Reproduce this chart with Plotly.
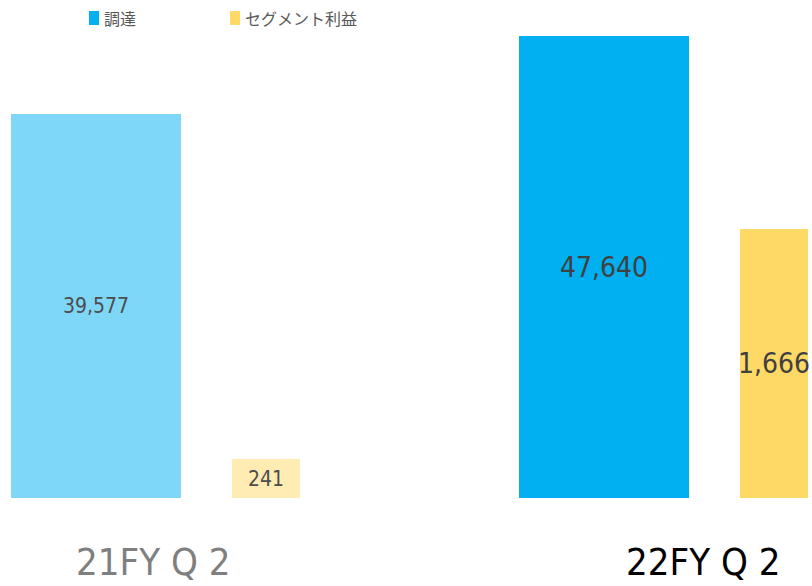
import plotly.graph_objects as go

categories = ["21FY Q 2", "22FY Q 2"]
procurement = [39577, 47640]          # 調達 (primary axis)
segment_profit = [241, 1666]          # セグメント利益 (secondary axis)
series_names = ["調達", "セグメント利益"]
series_colors = ["#00B0F0", "#FFD966"]
point_opacity = [0.5, 1.0]
label_colors = ["#7F7F7F", "#000000"]
value_text_colors = ["#4D4D4D", "#404040"]
value_text_sizes = [21, 28]

x_pos = [0, 1]
fmt = lambda v: f"{v:,}"
NUM_FONT = "Liberation Sans Narrow, DejaVu Sans Condensed, Arial Narrow, sans-serif"

fig = go.Figure()
fig.add_trace(go.Bar(
    x=x_pos, y=procurement, name=series_names[0],
    width=170 / 508, offset=-144.5 / 508,
    marker=dict(color=series_colors[0], opacity=point_opacity, line=dict(width=0)),
    text=[fmt(v) for v in procurement], textposition="inside", textangle=0,
    insidetextanchor="middle", constraintext="none",
    textfont=dict(family=NUM_FONT, color=value_text_colors, size=value_text_sizes),
    hoverinfo="skip", showlegend=False,
))
fig.add_trace(go.Bar(
    x=x_pos, y=segment_profit, name=series_names[1], yaxis="y2",
    width=68 / 508, offset=76.5 / 508,
    marker=dict(color=series_colors[1], opacity=point_opacity, line=dict(width=0)),
    text=[fmt(v) for v in segment_profit], textposition="inside", textangle=0,
    insidetextanchor="middle", constraintext="none",
    textfont=dict(family=NUM_FONT, color=value_text_colors, size=value_text_sizes),
    hoverinfo="skip", showlegend=False, cliponaxis=False,
))

annotations = []
label_x = [(153 - 155.5) / 508, (703 - 155.5) / 508]
for xv, lab, col in zip(label_x, categories, label_colors):
    annotations.append(dict(
        x=xv, xref="x", y=0, yref="paper", yanchor="top", xanchor="center",
        yshift=-40,
        text=lab, showarrow=False,
        font=dict(family=NUM_FONT, size=38, color=col),
    ))

# custom legend
shapes = []
legend_sq_x = [89, 230]
legend_txt_x = [102, 243]
for sx, tx, name, col in zip(legend_sq_x, legend_txt_x, series_names, series_colors):
    shapes.append(dict(type="rect", xref="paper", yref="paper",
                       x0=sx / 812, x1=(sx + 10) / 812,
                       y0=1 - 25 / 498, y1=1 - 11 / 498,
                       fillcolor=col, line=dict(width=0)))
    annotations.append(dict(
        x=tx / 812, xref="paper", y=1 - 18 / 498, yref="paper",
        xanchor="left", yanchor="middle", text=name, showarrow=False,
        font=dict(family="Noto Sans CJK JP", size=16, color="#595959"),
    ))

fig.update_layout(
    width=812, height=586,
    margin=dict(l=0, r=0, t=0, b=88, pad=0),
    paper_bgcolor="white", plot_bgcolor="white",
    barmode="overlay", bargap=0,
    xaxis=dict(range=[-155.5 / 508, (812 - 155.5) / 508], visible=False, fixedrange=True),
    yaxis=dict(range=[0, 498 * 103.1], visible=False, fixedrange=True),
    yaxis2=dict(range=[0, 498 * 6.19], visible=False, overlaying="y", side="right", fixedrange=True),
    annotations=annotations, shapes=shapes,
    showlegend=False,
)

fig.write_html("out.html", config={"displayModeBar": False},
               post_script="document.body.style.margin='0';")
